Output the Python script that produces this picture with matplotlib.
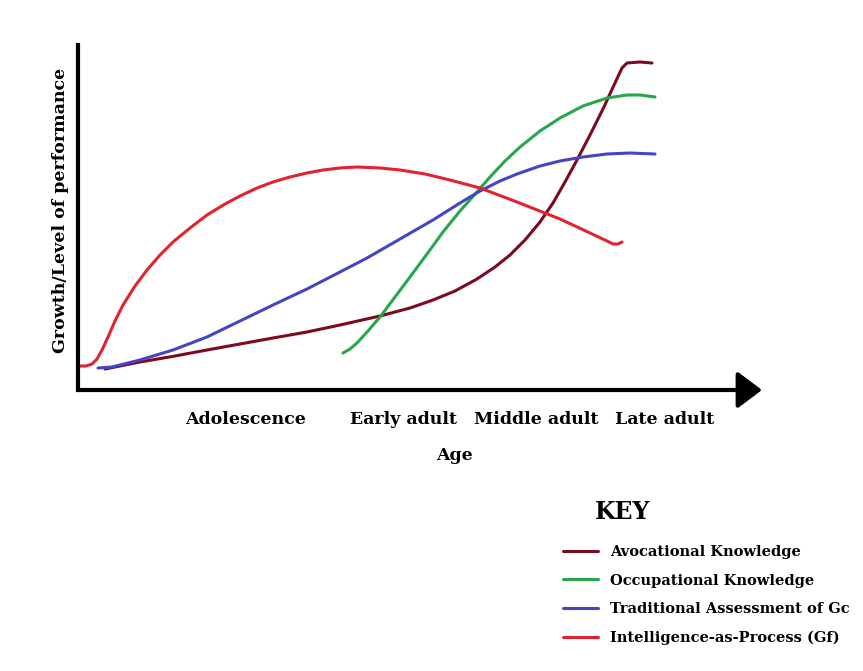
import matplotlib.pyplot as plt

# conceptual curves, x = age (arbitrary units), y = growth / level of performance
gf_x = [0, 8, 14, 19, 24, 30, 37, 45, 57, 69, 82, 95, 112, 129, 147, 162, 179, 195, 212, 229,
        245, 262, 279, 302, 322, 347, 372, 402, 439, 482, 512, 529, 535, 540, 544]
gf_y = [24, 24, 26, 31, 40, 53, 69, 85, 104, 120, 135, 148, 162, 175, 186, 194, 202, 208, 213, 217,
        220, 222, 223, 222, 220, 216, 210, 202, 188, 171, 157, 149, 146, 146, 148]

gc_x = [20, 34, 62, 95, 129, 162, 195, 229, 262, 289, 322, 355, 382, 402, 422, 439, 462, 482,
        505, 529, 552, 577]
gc_y = [22, 23, 30, 40, 53, 69, 85, 101, 118, 132, 151, 170, 187, 199, 209, 216, 224, 229,
        233, 236, 237, 236]

avoc_x = [27, 62, 97, 129, 162, 195, 229, 262, 302, 332, 355, 377, 399, 417, 432, 447, 462, 475,
          487, 499, 512, 525, 537, 544, 549, 562, 574]
avoc_y = [21, 28, 34, 40, 46, 52, 58, 65, 74, 82, 90, 99, 111, 123, 135, 150, 168, 187,
          208, 230, 255, 281, 307, 322, 327, 328, 327]

occ_x = [265, 272, 279, 290, 302, 317, 332, 349, 365, 382, 399, 412, 427, 442, 462, 482, 505,
         529, 549, 562, 577]
occ_y = [37, 41, 47, 59, 73, 93, 113, 136, 158, 179, 198, 213, 229, 243, 259, 272, 284,
         292, 295, 295, 293]

stage_pos = [168, 325, 458, 587]
stage_labels = ['Adolescence', 'Early adult', 'Middle adult', 'Late adult']

series = [
    ('Avocational Knowledge', avoc_x, avoc_y, '#7b0a1e'),
    ('Occupational Knowledge', occ_x, occ_y, '#27a64b'),
    ('Traditional Assessment of Gc', gc_x, gc_y, '#4545c4'),
    ('Intelligence-as-Process (Gf)', gf_x, gf_y, '#e2232f'),
]

font = 'DejaVu Serif'

fig = plt.figure(figsize=(8.63, 6.71), dpi=100)
ax = fig.add_axes([78 / 863, 1 - 390 / 671, 684 / 863, 345 / 671])

handles = []
for name, xs, ys, col in series:
    h, = ax.plot(xs, ys, color=col, lw=2.2, solid_capstyle='round',
                 solid_joinstyle='round', label=name)
    handles.append(h)

ax.set_xlim(0, 684)
ax.set_ylim(0, 345)

for s in ['top', 'right', 'bottom']:
    ax.spines[s].set_visible(False)
ax.spines['left'].set_linewidth(3)
ax.set_yticks([])

# x axis with arrow head
ax.annotate('', xy=(1, 0), xytext=(0, 0), xycoords='axes fraction',
            arrowprops=dict(arrowstyle='-|>,head_length=0.6,head_width=0.45',
                            lw=3, color='black', mutation_scale=25, shrinkA=0, shrinkB=0))

ax.set_xticks(stage_pos, stage_labels)
ax.tick_params(axis='x', length=0, pad=15)
for t in ax.get_xticklabels():
    t.set_fontfamily(font)
    t.set_fontweight('bold')
    t.set_fontsize(12.5)

ax.set_xlabel('Age', fontfamily=font, fontweight='bold', fontsize=12.5)
ax.xaxis.set_label_coords(376 / 684, -57 / 345)
ax.set_ylabel('Growth/Level of performance', fontfamily=font, fontweight='bold', fontsize=12.5)
ax.yaxis.set_label_coords(-9 / 684, 0.52)

fig.text(623 / 863, 1 - 512 / 671, 'KEY', fontfamily=font, fontweight='bold', fontsize=17,
         ha='center', va='center')

fig.legend(handles=handles, loc='upper left', bbox_to_anchor=(550 / 863, 1 - 532 / 671),
           frameon=False, prop={'family': font, 'weight': 'bold', 'size': 10.5},
           handlelength=2.4, handletextpad=0.8, labelspacing=0.99)

fig.savefig('out.png', dpi=100)
